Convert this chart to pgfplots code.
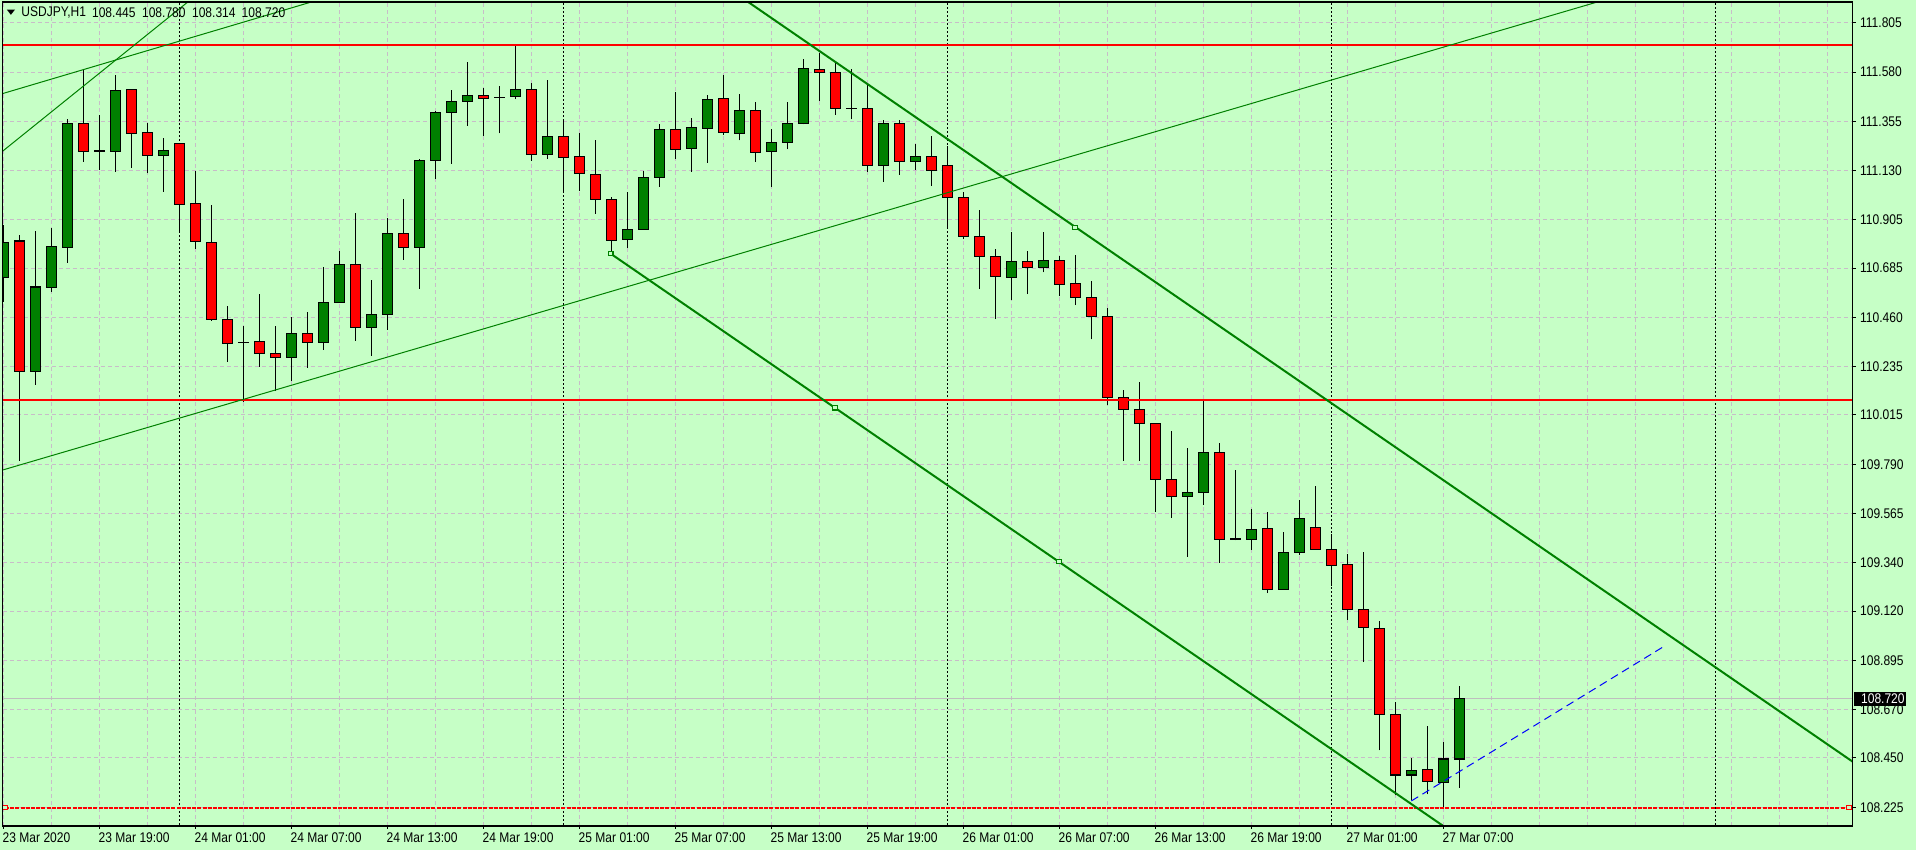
\documentclass[border=0pt]{standalone}
\usepackage{pgfplots}
\pgfplotsset{compat=1.18}
\usepackage{pgfplotstable}
\usepackage{fontspec}
\setmainfont{Liberation Sans}
\newfontfamily\mt[FakeStretch=0.86]{Liberation Sans}
\definecolor{bg}{RGB}{198,255,198}
\definecolor{gridc}{RGB}{200,188,200}
\definecolor{cgreen}{RGB}{0,128,0}
\definecolor{cred}{RGB}{255,0,0}
\definecolor{lastc}{RGB}{190,190,190}

\pgfplotstableread{
x o h l c
0 110.643 110.882 110.532 110.803
1 110.809 110.836 109.807 110.214
2 110.214 110.855 110.153 110.599
3 110.598 110.867 110.578 110.785
4 110.780 111.366 110.710 111.346
5 111.346 111.592 111.171 111.216
6 111.222 111.384 111.133 111.220
7 111.216 111.566 111.125 111.497
8 111.501 111.503 111.143 111.300
9 111.305 111.346 111.118 111.200
10 111.200 111.279 111.034 111.223
11 111.255 111.257 110.849 110.976
12 110.981 111.128 110.774 110.808
13 110.803 110.973 110.444 110.452
14 110.452 110.512 110.258 110.342
15 110.346 110.421 110.076 110.344
16 110.351 110.567 110.235 110.297
17 110.297 110.421 110.126 110.278
18 110.278 110.464 110.172 110.388
19 110.388 110.485 110.231 110.347
20 110.347 110.692 110.312 110.529
21 110.529 110.765 110.529 110.703
22 110.703 110.938 110.354 110.415
23 110.415 110.631 110.286 110.475
24 110.475 110.913 110.403 110.844
25 110.844 111.001 110.724 110.780
26 110.780 111.182 110.591 111.177
27 111.177 111.402 111.093 111.396
28 111.396 111.498 111.162 111.446
29 111.446 111.626 111.335 111.474
30 111.474 111.506 111.289 111.460
31 111.464 111.516 111.300 111.462
32 111.467 111.703 111.456 111.501
33 111.501 111.529 111.175 111.205
34 111.205 111.544 111.185 111.287
35 111.287 111.361 111.039 111.191
36 111.195 111.300 111.039 111.118
37 111.113 111.270 110.934 110.999
38 110.999 111.011 110.753 110.812
39 110.817 111.031 110.776 110.862
40 110.862 111.127 110.862 111.100
41 111.100 111.341 111.057 111.319
42 111.319 111.489 111.185 111.227
43 111.232 111.370 111.125 111.328
44 111.323 111.475 111.166 111.456
45 111.460 111.566 111.294 111.305
46 111.300 111.480 111.268 111.405
47 111.405 111.443 111.171 111.214
48 111.218 111.320 111.057 111.259
49 111.259 111.443 111.227 111.346
50 111.346 111.638 111.341 111.597
51 111.592 111.665 111.449 111.579
52 111.579 111.620 111.385 111.414
53 111.415 111.592 111.364 111.413
54 111.414 111.521 111.125 111.154
55 111.154 111.361 111.080 111.346
56 111.346 111.361 111.111 111.173
57 111.173 111.252 111.134 111.195
58 111.195 111.287 111.061 111.132
59 111.154 111.242 110.874 111.008
60 111.008 111.031 110.817 110.830
61 110.830 110.949 110.589 110.739
62 110.739 110.771 110.452 110.648
63 110.643 110.849 110.538 110.716
64 110.716 110.762 110.566 110.689
65 110.689 110.849 110.666 110.721
66 110.721 110.739 110.557 110.611
67 110.616 110.744 110.516 110.552
68 110.552 110.625 110.360 110.465
69 110.465 110.502 110.059 110.096
70 110.096 110.129 109.807 110.041
71 110.041 110.166 109.807 109.977
72 109.977 109.977 109.574 109.722
73 109.722 109.942 109.546 109.644
74 109.644 109.863 109.368 109.662
75 109.662 110.079 109.606 109.845
76 109.845 109.886 109.341 109.448
77 109.449 109.763 109.443 109.447
78 109.448 109.585 109.400 109.494
79 109.498 109.571 109.202 109.220
80 109.220 109.480 109.220 109.389
81 109.389 109.626 109.375 109.544
82 109.503 109.690 109.402 109.402
83 109.402 109.471 109.233 109.329
84 109.334 109.379 109.081 109.129
85 109.129 109.390 108.887 109.046
86 109.042 109.074 108.485 108.649
87 108.649 108.704 108.280 108.372
88 108.372 108.449 108.257 108.394
89 108.398 108.596 108.284 108.344
90 108.339 108.523 108.226 108.445
91 108.445 108.780 108.314 108.720
}\candles

\pgfplotsset{
  common/.style={
    at={(1.35pt,12pt)}, anchor=south west,
    width=925pt, height=412pt, scale only axis,
    xmin=-0.05, xmax=115.575, ymin=108.1397, ymax=111.8995,
  },
}

\begin{document}
\begin{tikzpicture}[x=1pt,y=1pt]
\fill[bg] (0,0) rectangle (958,425);
\path[use as bounding box] (0,0) rectangle (958,425);

% ---------- axis 1: grid, ticks, separators, wicks
\begin{axis}[common,
  font=\mt\fontsize{7pt}{8pt}\selectfont,
  axis line style={black, line width=0.5pt},
  grid=both,
  major grid style={gridc, dash pattern=on 2pt off 1.5pt, line width=0.5pt},
  minor grid style={gridc, dash pattern=on 2pt off 1.5pt, line width=0.5pt},
  xtick={0,6,...,90},
  xticklabels={23 Mar 2020, 23 Mar 19:00, 24 Mar 01:00, 24 Mar 07:00, 24 Mar 13:00,
    24 Mar 19:00, 25 Mar 01:00, 25 Mar 07:00, 25 Mar 13:00, 25 Mar 19:00,
    26 Mar 01:00, 26 Mar 07:00, 26 Mar 13:00, 26 Mar 19:00, 27 Mar 01:00, 27 Mar 07:00},
  minor xtick={3,9,15,21,27,33,39,45,51,57,63,69,75,81,87,93,96,99,102,105,108,111,114},
  ytick={108.225,108.450,108.670,108.895,109.120,109.340,109.565,109.790,110.015,110.235,110.460,110.685,110.905,111.130,111.355,111.580,111.805},
  yticklabels={108.225,108.450,108.670,108.895,109.120,109.340,109.565,109.790,110.015,110.235,110.460,110.685,110.905,111.130,111.355,111.580,111.805},
  xtick pos=bottom, ytick pos=right, yticklabel pos=right,
  tick align=outside, major tick length=1.5pt, minor tick length=0pt,
  major tick style={black, line width=0.5pt},
  xticklabel style={anchor=north west, inner sep=0pt, xshift=-0.6pt, yshift=-1.5pt},
  yticklabel style={anchor=west, inner sep=0pt, xshift=2pt},
]
\addplot[lastc, line width=0.5pt] coordinates {(-1,108.720) (117,108.720)};
\addplot[black, line width=0.5pt, dash pattern=on 1pt off 1pt] coordinates {(11,108.0) (11,112.0)};
\addplot[black, line width=0.5pt, dash pattern=on 1pt off 1pt] coordinates {(35,108.0) (35,112.0)};
\addplot[black, line width=0.5pt, dash pattern=on 1pt off 1pt] coordinates {(59,108.0) (59,112.0)};
\addplot[black, line width=0.5pt, dash pattern=on 1pt off 1pt] coordinates {(83,108.0) (83,112.0)};
\addplot[black, line width=0.5pt, dash pattern=on 1pt off 1pt] coordinates {(107,108.0) (107,112.0)};
% wicks
\addplot[draw=none, mark=none, forget plot,
  error bars/.cd, y dir=plus, y explicit, error mark=none,
  error bar style={draw=black, solid, line width=0.6pt}]
  table[x=x, y=l, y error expr=\thisrow{h}-\thisrow{l}] {\candles};
\end{axis}

% ---------- axis 2: candle bodies
\begin{axis}[common, hide axis, ybar stacked, bar width=4.7pt]
\addplot[draw=none, fill=none] table[x=x, y expr={min(\thisrow{o},\thisrow{c})}] {\candles};
\addplot[fill=cgreen, draw=black, line width=0.6pt] table[x=x, y expr={max(\thisrow{c}-\thisrow{o},0)}] {\candles};
\addplot[fill=cred, draw=black, line width=0.6pt] table[x=x, y expr={max(\thisrow{o}-\thisrow{c},0)}] {\candles};
\end{axis}

% ---------- axis 3: objects and frame
\begin{axis}[common, xtick=\empty, ytick=\empty, axis on top, clip mode=individual,
  axis line style={black, line width=0.6pt}]
% red horizontal levels
\addplot[cred, line width=1pt] coordinates {(-1,111.705) (117,111.705)};
\addplot[cred, line width=1pt] coordinates {(-1,110.085) (117,110.085)};
\addplot[cred, line width=0.8pt, dash pattern=on 2pt off 0.6pt] coordinates {(0.09,108.223) (115.34,108.223)};
\addplot[cred, only marks, mark=square*, mark size=1.1pt, mark options={fill=bg, draw=cred, line width=0.5pt}]
  coordinates {(0.09,108.223) (115.34,108.223)};
% thin green trend lines
\addplot[cgreen, line width=0.5pt] coordinates {(-0.05,109.764) (99.59,111.899)};
\addplot[cgreen, line width=0.5pt] coordinates {(-0.219,111.478) (19.22,111.899)};
\addplot[cgreen, line width=0.5pt] coordinates {(-0.219,111.209) (11.51,111.899)};
% thick channel
\addplot[cgreen, line width=1pt] coordinates {(46.55,111.899) (115.575,108.433)};
\addplot[cgreen, line width=1pt] coordinates {(37.95,110.751) (89.98,108.140)};
\addplot[cgreen, only marks, mark=square*, mark size=1.1pt, mark options={fill=bg, draw=cgreen, line width=0.6pt}]
  coordinates {(37.95,110.751) (51.97,110.048) (65.97,109.346) (66.97,110.870)};
% blue dashed
\addplot[blue, line width=0.5pt, dash pattern=on 4pt off 2.5pt] coordinates {(87.99,108.254) (103.93,108.966)};
\coordinate (tag) at (axis cs:115.575,108.720);
\end{axis}

% price tag
\node[fill=black, text=white, anchor=west, inner xsep=0.8pt, inner ysep=0.9pt,
  font=\mt\fontsize{7pt}{8pt}\selectfont] at ([xshift=0.3pt]tag) {\hspace*{2.9pt}108.720};

% header
\fill[black] (3.4,420.2) -- (7.5,420.2) -- (5.45,417.6) -- cycle;
\begin{scope}[every node/.style={anchor=west, inner sep=0pt, font=\mt\fontsize{7pt}{8pt}\selectfont}]
\node at (10.5,418.6) {USDJPY,H1};
\node at (45.85,418.6) {108.445};
\node at (70.85,418.6) {108.780};
\node at (95.85,418.6) {108.314};
\node at (120.65,418.6) {108.720};
\end{scope}
\end{tikzpicture}
\end{document}
